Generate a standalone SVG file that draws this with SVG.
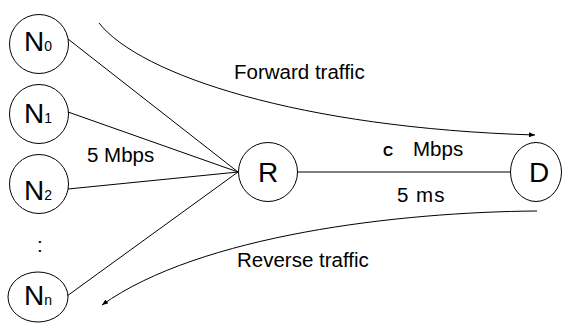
<svg xmlns="http://www.w3.org/2000/svg" width="563" height="323" viewBox="0 0 563 323">
<style>
  .node circle, .node ellipse { fill: #fff; stroke: #000; stroke-width: 1; }
  .lbl { font-family: "Liberation Sans", Arial, sans-serif; font-size: 28px; fill: #000; }
  .sub { font-size: 14px; }
  .edge { font-family: "Liberation Sans", Arial, sans-serif; font-size: 20.5px; fill: #000; }
  .conn line, .conn path { stroke: #000; stroke-width: 1; fill: none; }
</style>
<defs>
  <marker id="arr" markerUnits="userSpaceOnUse" markerWidth="6" markerHeight="5" refX="6" refY="2.5" orient="auto">
    <path d="M0,0 L6,2.5 L0,5 z" fill="#000"/>
  </marker>
</defs>
<rect width="563" height="323" fill="#fff"/>
<g id="connectors" class="conn">
  <line x1="68" y1="39" x2="238" y2="172"/>
  <line x1="68" y1="112" x2="238" y2="172"/>
  <line x1="68" y1="189" x2="238" y2="172"/>
  <line x1="67" y1="296" x2="238" y2="172"/>
  <line x1="298" y1="172" x2="511" y2="172"/>
  <path d="M99,23 C140,75 300,128 535,135" marker-end="url(#arr)"/>
  <path d="M537,211 C400,212 200,235 102,305" marker-end="url(#arr)"/>
</g>
<g id="N0" class="node">
  <circle cx="39" cy="44" r="29.5"/>
  <text class="lbl" x="24" y="51">N<tspan class="sub">0</tspan></text>
</g>
<g id="N1" class="node">
  <circle cx="39" cy="114" r="29.5"/>
  <text class="lbl" x="24" y="123">N<tspan class="sub">1</tspan></text>
</g>
<g id="N2" class="node">
  <circle cx="39" cy="184" r="29.5"/>
  <text class="lbl" x="24" y="200">N<tspan class="sub">2</tspan></text>
</g>
<g id="dots">
  <text class="edge" x="37" y="252">:</text>
</g>
<g id="Nn" class="node">
  <ellipse cx="38" cy="297" rx="30" ry="25"/>
  <text class="lbl" x="24" y="305">N<tspan class="sub">n</tspan></text>
</g>
<g id="R" class="node">
  <circle cx="268" cy="172" r="29.5"/>
  <text class="lbl" x="268" y="182" text-anchor="middle">R</text>
</g>
<g id="D" class="node">
  <ellipse cx="536" cy="172" rx="25.5" ry="29.5"/>
  <text class="lbl" x="539" y="182" text-anchor="middle">D</text>
</g>
<g id="labels">
  <text class="edge" x="234" y="79">Forward traffic</text>
  <text class="edge" x="87" y="162">5 Mbps</text>
  <text class="edge" x="383" y="156" style="font-size:14px;font-weight:bold">C</text>
  <text class="edge" x="413" y="156">Mbps</text>
  <text class="edge" x="397" y="202" letter-spacing="1">5 ms</text>
  <text class="edge" x="237" y="267">Reverse traffic</text>
</g>
</svg>
